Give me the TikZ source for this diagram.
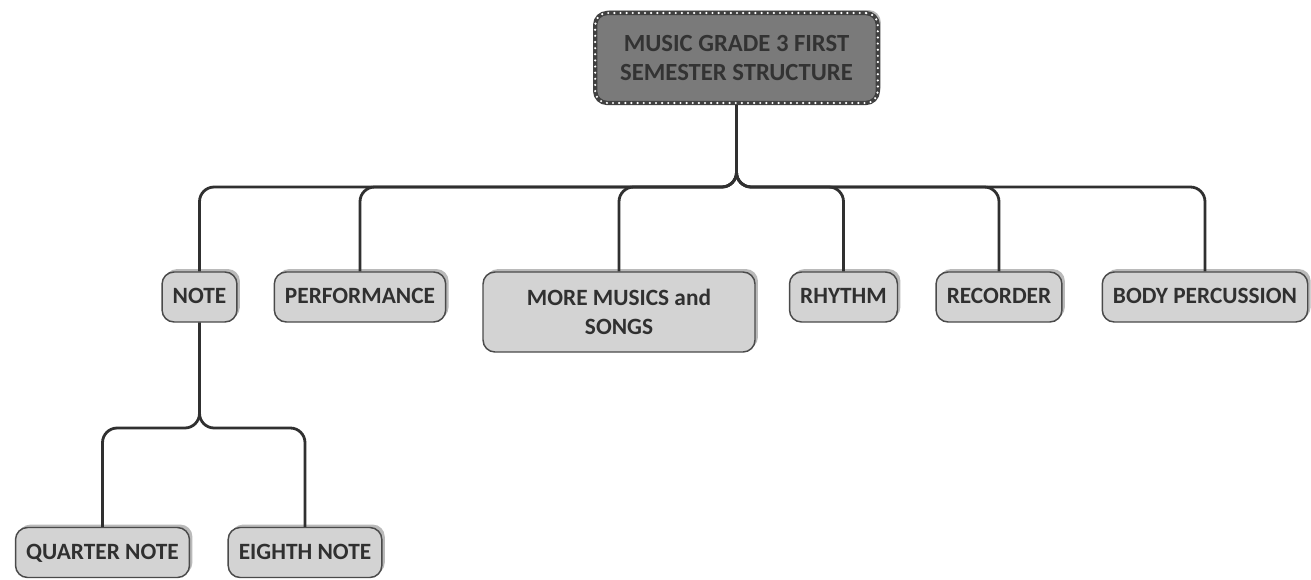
\documentclass[tikz,border=0pt]{standalone}
\usepackage{fontspec}
\setmainfont{Carlito}
\usetikzlibrary{shadows}
\definecolor{boxfill}{HTML}{D3D3D3}
\definecolor{rootfill}{HTML}{7A7A7A}
\definecolor{edge}{HTML}{4A4A4A}
\definecolor{ink}{HTML}{303030}

\begin{document}
\begin{tikzpicture}[x=0.75pt,y=0.75pt,yscale=-1,xscale=1,
    topic/.style={draw=edge, line width=1.1pt, fill=boxfill, rounded corners=9pt, text=ink,
        font=\fontsize{17.5}{22}\selectfont\bfseries, align=center, inner xsep=8pt, inner ysep=3pt,
        minimum height=37.5pt,
        drop shadow={shadow xshift=2.2pt, shadow yshift=2.2pt, fill=black!45, opacity=0.6}},
    oneline/.style={topic, text height=12pt, text depth=2pt},
    rootbox/.style={topic, fill=rootfill, draw=black!75, line width=3.2pt, text=black!80,
        font=\fontsize{18.5}{22}\selectfont\bfseries,
        minimum width=212pt, minimum height=67.5pt,
        postaction={draw=white, line width=1.8pt, line cap=round, dash pattern=on 0pt off 4.6pt}},
    link/.style={draw=ink, line width=2.1pt, rounded corners=11pt}]
%set diagram size: 1311 x 579
\path[use as bounding box, fill=white] (0,0) rectangle (1311,579);

% Root
\node[rootbox] (root) at (736.5,58) {MUSIC GRADE 3 FIRST\\SEMESTER STRUCTURE};
% Topics
\node[oneline] (note) at (199.5,297) {NOTE};
\node[oneline] (perf) at (360,297) {PERFORMANCE};
\node[topic, minimum width=204pt, minimum height=60pt] (more) at (619,312) {MORE MUSICS and\\SONGS};
\node[oneline] (rhythm) at (843.5,297) {RHYTHM};
\node[oneline] (rec) at (999,297) {RECORDER};
\node[oneline] (body) at (1205,297) {BODY PERCUSSION};
% Sub topics of NOTE
\node[oneline] (quarter) at (102.5,552.5) {QUARTER NOTE};
\node[oneline] (eighth) at (305,552.5) {EIGHTH NOTE};

% Connectors
\coordinate (bar) at (738,187);
\coordinate (subbar) at (202,428);
\foreach \t in {note,perf,more,rhythm,rec,body}
    \draw[link] (root.south) -- (root.south |- bar) -- (\t.north |- bar) -- (\t.north);
\foreach \t in {quarter,eighth}
    \draw[link] (note.south) -- (note.south |- subbar) -- (\t.north |- subbar) -- (\t.north);

\end{tikzpicture}
\end{document}
